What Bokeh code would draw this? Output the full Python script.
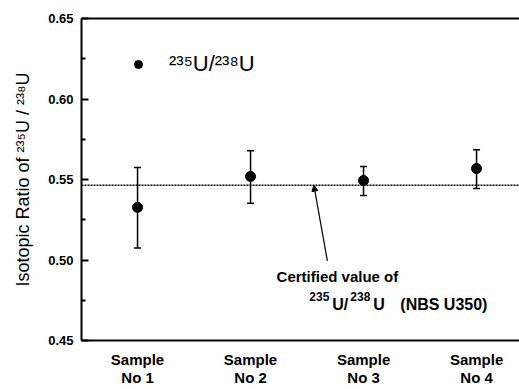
from bokeh.plotting import figure
from bokeh.models import (Range1d, FixedTicker, LinearAxis, Span, Whisker, TeeHead,
                          Arrow, NormalHead, ColumnDataSource, Legend, LegendItem, Label)
from bokeh.embed import file_html
from bokeh.resources import INLINE

# ---- data ----
sample_pos = [1, 2, 3, 4]
sample_labels = ["Sample\nNo 1", "Sample\nNo 2", "Sample\nNo 3", "Sample\nNo 4"]
ratio = [0.5327, 0.5519, 0.5494, 0.5568]
err_upper = [0.5574, 0.5679, 0.5580, 0.5685]
err_lower = [0.5074, 0.5352, 0.5400, 0.5444]
certified_value = 0.5465
y_ticks = [0.45, 0.50, 0.55, 0.60, 0.65]

FONT = "Liberation Sans"

src = ColumnDataSource(dict(x=sample_pos, y=ratio, upper=err_upper, lower=err_lower))

p = figure(width=519, height=389, output_backend="svg", toolbar_location=None,
           x_range=Range1d(0.504, 4.38), y_range=Range1d(0.45, 0.65),
           x_axis_location=None, y_axis_location=None)
p.min_border_left = 81
p.min_border_top = 18
p.min_border_right = 0
p.min_border_bottom = 47
p.outline_line_color = None
p.grid.visible = False
p.background_fill_color = "white"
p.border_fill_color = "white"

# left axis
ya = LinearAxis(ticker=FixedTicker(ticks=y_ticks, minor_ticks=[0.475, 0.525, 0.575, 0.625]))
ya.axis_line_width = 2
ya.major_tick_in = 7
ya.major_tick_out = 0
ya.major_tick_line_width = 2
ya.minor_tick_in = 4
ya.minor_tick_out = 0
ya.minor_tick_line_width = 2
ya.major_label_text_font = FONT
ya.major_label_text_font_style = "bold"
ya.major_label_text_font_size = "13px"
ya.major_label_text_color = "black"
ya.major_label_standoff = 8
ya.major_label_overrides = {v: f"{v:.2f}" for v in y_ticks}
ya.axis_label = "Isotopic Ratio of ²³⁵U / ²³⁸U"
ya.axis_label_text_font = FONT
ya.axis_label_text_font_style = "normal"
ya.axis_label_text_font_size = "18px"
ya.axis_label_text_color = "black"
ya.axis_label_standoff = 12
p.add_layout(ya, "left")

# bottom axis
xa = LinearAxis(ticker=FixedTicker(ticks=sample_pos))
xa.axis_line_width = 2
xa.major_tick_in = 0
xa.major_tick_out = 0
xa.minor_tick_line_color = None
xa.major_label_overrides = {x: l for x, l in zip(sample_pos, sample_labels)}
xa.major_label_text_font = FONT
xa.major_label_text_font_style = "bold"
xa.major_label_text_font_size = "15px"
xa.major_label_text_line_height = 1.1
xa.major_label_text_color = "black"
xa.major_label_standoff = 10
p.add_layout(xa, "below")

# top border line
ta = LinearAxis(ticker=FixedTicker(ticks=[]))
ta.axis_line_width = 2
ta.major_tick_line_color = None
ta.minor_tick_line_color = None
p.add_layout(ta, "above")

# certified value line
p.add_layout(Span(location=certified_value, dimension="width", line_color="black",
                  line_width=1.5, line_dash="2 1"))

# error bars
p.add_layout(Whisker(source=src, base="x", upper="upper", lower="lower",
                     line_color="black", line_width=1.5,
                     upper_head=TeeHead(size=7, line_width=1.5),
                     lower_head=TeeHead(size=7, line_width=1.5)))

r = p.scatter("x", "y", source=src, size=10, color="black")

legend = Legend(items=[LegendItem(label="²³⁵U/²³⁸U", renderers=[r])],
                location=(47, 263), border_line_color=None, background_fill_alpha=0,
                margin=0, padding=0, glyph_width=20, glyph_height=20,
                label_standoff=21, label_text_font=FONT, label_text_font_size="22px",
                label_text_color="black")
p.add_layout(legend)

# annotation
p.add_layout(Arrow(x_start=2.68, y_start=0.4994, x_end=2.56, y_end=certified_value,
                   line_color="black", line_width=1.2,
                   end=NormalHead(size=6, fill_color="black", line_color="black")))
p.add_layout(Label(x=2.23, y=0.4895, text="Certified value of", text_font=FONT,
                   text_font_style="bold", text_font_size="15px", text_baseline="middle",
                   text_color="black"))

# second annotation line built from pieces (superscripts raised)
ANN_X, ANN_Y = 2.52, 0.4722
pieces = [("235", 0, 8, "12px"), ("U/", 23, 0, "16px"), ("238", 41, 8, "12px"),
          ("U", 64, 0, "16px"), ("(NBS U350)", 91, 0, "16px")]
for txt, dx, dy, fs in pieces:
    p.add_layout(Label(x=ANN_X, y=ANN_Y, x_offset=dx, y_offset=dy, text=txt,
                       text_font=FONT, text_font_style="bold", text_font_size=fs,
                       text_baseline="alphabetic", text_color="black"))

open("out.html", "w").write(file_html(p, INLINE))
